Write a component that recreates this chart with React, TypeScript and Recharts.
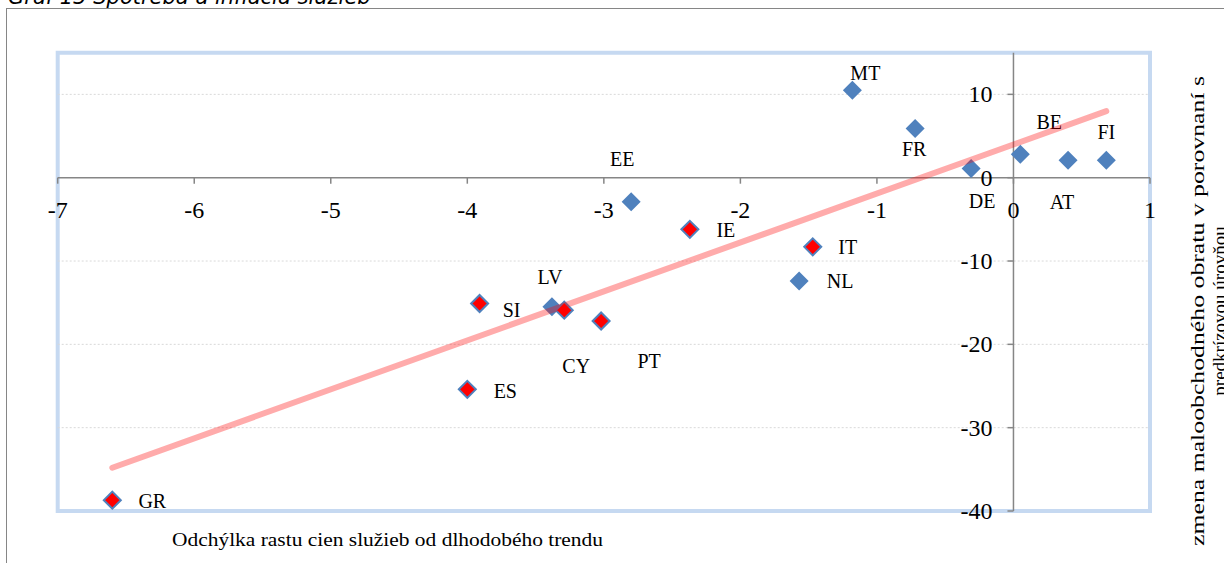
import { ScatterChart, Scatter, XAxis, YAxis, ReferenceLine, ReferenceDot, ReferenceArea } from "recharts";

// countries shown with blue markers
const blueNames = ["MT", "FR", "DE", "BE", "AT", "FI", "EE", "NL", "LV"];
const blueX = [-1.18, -0.72, -0.31, 0.05, 0.4, 0.68, -2.8, -1.57, -3.38];
const blueY = [10.5, 5.9, 1.1, 2.8, 2.1, 2.1, -2.9, -12.4, -15.5];

// countries shown with red markers
const redNames = ["IE", "IT", "SI", "CY", "PT", "ES", "GR"];
const redX = [-2.37, -1.47, -3.91, -3.29, -3.02, -4.0, -6.6];
const redY = [-6.2, -8.3, -15.1, -15.9, -17.2, -25.4, -38.7];

const xTicks = [-7, -6, -5, -4, -3, -2, -1, 0, 1];
const yTicks = [10, 0, -10, -20, -30, -40];
const gridValues = [10, -10, -20, -30];

const title = "Graf 13 Spotreba a inflácia služieb";
const xTitle = "Odchýlka rastu cien služieb od dlhodobého trendu";
const yTitle1 = "zmena  maloobchodného obratu v porovnaní s";
const yTitle2 = "predkrízovou úrovňou";

// label placement around each marker (px)
const labelOffset: Record<string, [number, number]> = {
  MT: [13, -17], FR: [-1, 20], DE: [11, 32], BE: [29, -32], AT: [-6, 42],
  FI: [0, -28], EE: [-9, -43], NL: [41, 0], LV: [-2, -30],
  IE: [36, 1], IT: [35, 0], SI: [32, 6], CY: [12, 56], PT: [48, 40],
  ES: [38, 2], GR: [40, 1],
};

const blueData = blueNames.map((name, i) => ({ name, x: blueX[i], y: blueY[i] }));
const redData = redNames.map((name, i) => ({ name, x: redX[i], y: redY[i] }));

// least-squares trend over all countries
const allX = [...blueX, ...redX];
const allY = [...blueY, ...redY];
const mx = allX.reduce((a, b) => a + b, 0) / allX.length;
const my = allY.reduce((a, b) => a + b, 0) / allY.length;
let sxy = 0;
let sxx = 0;
allX.forEach((x, i) => {
  sxy += (x - mx) * (allY[i] - my);
  sxx += (x - mx) * (x - mx);
});
const slope = sxy / sxx;
const intercept = my - slope * mx;
const xMin = Math.min(...allX);
const xMax = Math.max(...allX);
const trendData = [
  { x: xMin, y: intercept + slope * xMin },
  { x: xMax, y: intercept + slope * xMax },
];

const SERIF = "'Liberation Serif', 'Times New Roman', serif";
const BLUE = "#4F81BD";
const AXIS = "#868686";
const serif = (size: number) => ({ fontFamily: SERIF, fontSize: size });

const diamond = (cx: number, cy: number, r: number) =>
  `${cx},${cy - r} ${cx + r},${cy} ${cx},${cy + r} ${cx - r},${cy}`;

const PointLabel = ({ cx, cy, name }: { cx: number; cy: number; name: string }) => {
  const [dx, dy] = labelOffset[name] || [0, 0];
  return (
    <text x={cx + dx} y={cy + dy} textAnchor="middle" dominantBaseline="central"
      style={serif(20)} fill="#000">
      {name}
    </text>
  );
};

const BlueShape = (props: any) => {
  const { cx, cy, payload } = props;
  return (
    <g>
      <polygon points={diamond(cx, cy, 9.5)} fill={BLUE} />
      <PointLabel cx={cx} cy={cy} name={payload.name} />
    </g>
  );
};

const RedShape = (props: any) => {
  const { cx, cy, payload } = props;
  return (
    <g>
      <polygon points={diamond(cx, cy, 8.5)} fill="#FF0000" stroke={BLUE} strokeWidth={2} />
      <PointLabel cx={cx} cy={cy} name={payload.name} />
    </g>
  );
};

const XTick = ({ cx, cy, value }: { cx: number; cy: number; value: number }) => (
  <g>
    <line x1={cx} y1={cy} x2={cx} y2={cy + 6} stroke={AXIS} strokeWidth={1.5} />
    <text x={cx} y={cy + 40} textAnchor="middle" style={serif(24)} fill="#000">
      {String(value)}
    </text>
  </g>
);

const YTick = ({ cx, cy, value }: { cx: number; cy: number; value: number }) => (
  <g>
    <line x1={cx - 6} y1={cy} x2={cx} y2={cy} stroke={AXIS} strokeWidth={1.5} />
    <text x={cx - 21} y={cy} textAnchor="end" dominantBaseline="central" style={serif(24)} fill="#000">
      {String(value)}
    </text>
  </g>
);

export default function App() {
  return (
    <div style={{ position: "absolute", left: 0, top: 0, width: 1224, height: 563, overflow: "hidden", background: "#fff" }}>
      <div style={{ position: "absolute", left: 6, top: 8, width: 1400, height: 800, borderTop: `1.5px solid ${AXIS}`, borderLeft: `1.5px solid ${AXIS}` }} />
      <div style={{ position: "absolute", left: 8, top: -13, fontFamily: "'DejaVu Sans', Verdana, sans-serif", fontStyle: "italic", fontSize: 21, lineHeight: "21px", whiteSpace: "nowrap" }}>
        {title}
      </div>
      <div style={{ position: "absolute", left: 0, top: 0 }}>
        <ScatterChart width={1224} height={563} margin={{ top: 52.7, left: 57.7, right: 74, bottom: 52 }}>
          <XAxis type="number" dataKey="x" domain={[-7, 1]} allowDataOverflow hide />
          <YAxis type="number" dataKey="y" domain={[-40, 15]} allowDataOverflow hide />
          <ReferenceArea x1={-7} x2={1} y1={-40} y2={15} fill="none" stroke="#C6D9F1" strokeWidth={4} ifOverflow="visible" />
          {gridValues.map((v) => (
            <ReferenceLine key={`g${v}`} y={v} stroke="#D9D9D9" strokeDasharray="2 2" strokeWidth={1} />
          ))}
          <ReferenceLine y={0} stroke={AXIS} strokeWidth={1.5} />
          <ReferenceLine x={0} stroke={AXIS} strokeWidth={1.5} />
          {xTicks.map((t) => (
            <ReferenceDot key={`x${t}`} x={t} y={0} r={0} ifOverflow="visible"
              shape={(p: any) => <XTick cx={p.cx} cy={p.cy} value={t} />} />
          ))}
          {yTicks.map((t) => (
            <ReferenceDot key={`y${t}`} x={0} y={t} r={0} ifOverflow="visible"
              shape={(p: any) => <YTick cx={p.cx} cy={p.cy} value={t} />} />
          ))}
          <Scatter data={blueData} shape={BlueShape} isAnimationActive={false} />
          <Scatter data={redData} shape={RedShape} isAnimationActive={false} />
          <Scatter data={trendData} shape={() => <g />} isAnimationActive={false}
            line={{ stroke: "#FF0000", strokeOpacity: 0.33, strokeWidth: 6, strokeLinecap: "round" }} />
        </ScatterChart>
      </div>
      <svg width={1224} height={563} style={{ position: "absolute", left: 0, top: 0, pointerEvents: "none" }}>
        <text x={387.5} y={546} textAnchor="middle" style={serif(19)} textLength={431}
          lengthAdjust="spacingAndGlyphs" fill="#000">
          {xTitle}
        </text>
        <g transform="translate(1204, 311) rotate(-90)">
          <text x={0} y={0} textAnchor="middle" style={serif(19)} textLength={470}
            lengthAdjust="spacingAndGlyphs" fill="#000">
            {yTitle1}
          </text>
          <text x={0} y={22} textAnchor="middle" style={serif(19)} fill="#000">
            {yTitle2}
          </text>
        </g>
      </svg>
    </div>
  );
}
